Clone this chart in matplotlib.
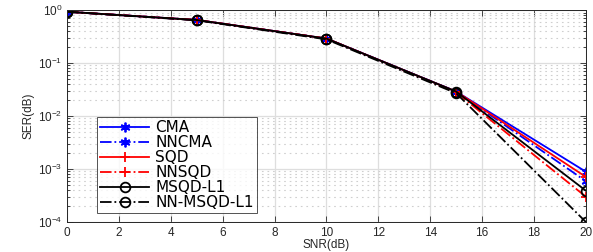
import matplotlib
matplotlib.use("Agg")
import matplotlib.pyplot as plt
from matplotlib.ticker import LogLocator, NullFormatter

plt.rcParams['font.family'] = ['Liberation Sans', 'DejaVu Sans']
plt.rcParams['mathtext.default'] = 'regular'

snr = [0, 5, 10, 15, 20]
cma = [0.93, 0.65, 0.29, 0.029, 8.9e-4]
nncma = [0.93, 0.65, 0.29, 0.029, 5.9e-4]
sqd = [0.93, 0.65, 0.29, 0.029, 7.1e-4]
nnsqd = [0.93, 0.65, 0.29, 0.028, 3.0e-4]
msqd = [0.93, 0.65, 0.29, 0.029, 3.9e-4]
nnmsqd = [0.93, 0.64, 0.28, 0.027, 1.0e-4]

labels = ['CMA', 'NNCMA', 'SQD', 'NNSQD', 'MSQD-L1', 'NN-MSQD-L1']
series = [cma, nncma, sqd, nnsqd, msqd, nnmsqd]
colors = ['#0000ff', '#0000ff', '#ff0000', '#ff0000', 'black', 'black']
styles = ['-', '-.', '-', '-.', '-', '-.']
asterisk = (6, 2, 0)
markers = [asterisk, asterisk, '+', '+', 'o', 'o']

fig = plt.figure(figsize=(5.93, 2.52), dpi=100)
ax = fig.add_axes([0.113, 0.119, 0.875, 0.841])

for y, lab, c, ls, m in zip(series, labels, colors, styles, markers):
    ax.semilogy(snr, y, color=c, linestyle=ls, marker=m, markersize=7,
                markerfacecolor='none', markeredgewidth=1.3, linewidth=1.3,
                label=lab)

ax.set_xlim(0, 20)
ax.set_ylim(1e-4, 1)
ax.set_xticks(range(0, 21, 2))
ax.yaxis.set_major_locator(LogLocator(base=10, numticks=10))
ax.yaxis.set_minor_locator(LogLocator(base=10, subs=range(2, 10), numticks=20))
ax.yaxis.set_minor_formatter(NullFormatter())

# grid: solid major, dotted minor
ax.grid(which='major', color='#dedede', linestyle='-', linewidth=0.9)
ax.grid(which='minor', axis='y', color='#cfcfcf', linestyle=(0, (1.5, 3.5)),
        linewidth=0.8)
ax.set_axisbelow(True)

ax.tick_params(which='both', direction='in', top=True, right=True,
               labelsize=8.5, colors='#262626', width=0.6)
ax.tick_params(which='major', length=4)
ax.tick_params(which='minor', length=2)
for s in ax.spines.values():
    s.set_color('#262626')
    s.set_linewidth(0.7)

ax.set_xlabel('SNR(dB)', fontsize=8.5, color='#262626', labelpad=0)
ax.set_ylabel('SER(dB)', fontsize=8.5, color='#262626', labelpad=2)

leg = ax.legend(loc='lower left', bbox_to_anchor=(0.058, 0.042),
                prop={'family': 'DejaVu Sans', 'size': 11},
                handlelength=3.2, borderaxespad=0, frameon=True, fancybox=False,
                edgecolor='#262626', labelspacing=0.0, borderpad=0.2,
                handletextpad=0.4)
leg.get_frame().set_linewidth(0.7)

fig.savefig('out.png', dpi=100)
